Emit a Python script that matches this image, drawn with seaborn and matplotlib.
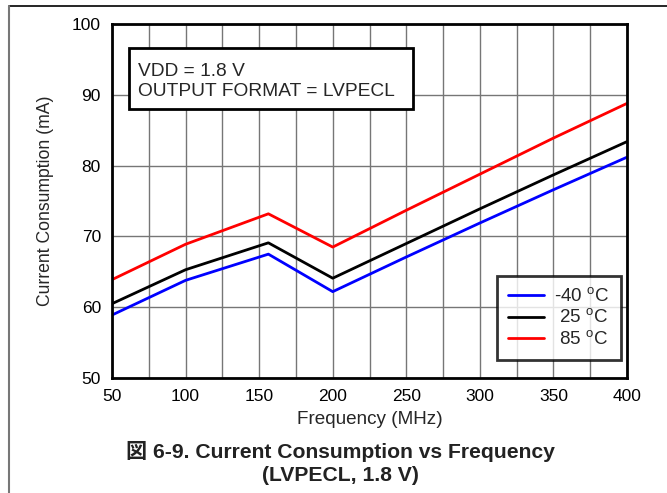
import numpy as np
import pandas as pd
import matplotlib
matplotlib.use("Agg")
import matplotlib.pyplot as plt
from matplotlib.lines import Line2D
from matplotlib.patches import Rectangle
import seaborn as sns

# Data
freq = [50, 100, 156.25, 200, 250, 300, 350, 400]
temps = ["-40 $^{\\mathregular{o}}$C", " 25 $^{\\mathregular{o}}$C", " 85 $^{\\mathregular{o}}$C"]
current_m40 = [58.9, 63.8, 67.5, 62.2, 67.1, 71.9, 76.6, 81.2]
current_25 = [60.5, 65.3, 69.1, 64.1, 69.0, 73.9, 78.7, 83.4]
current_85 = [63.9, 68.9, 73.2, 68.5, 73.7, 78.8, 83.9, 88.8]
colors = ["#0000ff", "#000000", "#ff0000"]

df = pd.DataFrame({
    "Frequency": freq * 3,
    "Current": current_m40 + current_25 + current_85,
    "Temp": [temps[0]] * 8 + [temps[1]] * 8 + [temps[2]] * 8,
})

sns.set_style("white")
plt.rcParams["font.family"] = ["Liberation Sans", "Noto Sans CJK JP", "DejaVu Sans"]
plt.rcParams["mathtext.fontset"] = "custom"
plt.rcParams["mathtext.rm"] = "Liberation Sans"

fig = plt.figure(figsize=(6.67, 4.93), dpi=100)
ax = fig.add_axes([0.168, 0.2333, 0.772, 0.7177])

sns.lineplot(data=df, x="Frequency", y="Current", hue="Temp", palette=colors,
             linewidth=2, ax=ax, legend=True)

ax.set_xlim(50, 400)
ax.set_ylim(50, 100)
ax.set_xticks(np.arange(50, 401, 50))
ax.set_xticks(np.arange(50, 401, 25), minor=True)
ax.set_yticks(np.arange(50, 101, 10))
ax.grid(True, which="both", color="#767676", linewidth=1.0)
ax.tick_params(which="both", length=0, labelsize=12.5, colors="black", pad=8)
for s in ax.spines.values():
    s.set_linewidth(2.0)
    s.set_color("black")

ax.set_xlabel("Frequency (MHz)", fontsize=13.6, labelpad=5)
ax.set_ylabel("Current Consumption (mA)", fontsize=12.7, labelpad=13)

leg = ax.legend(loc="lower right", fontsize=13.5, frameon=True, fancybox=False,
                handlelength=1.9, borderpad=0.6, labelspacing=0.15,
                bbox_to_anchor=(0.988, 0.051), borderaxespad=0, handletextpad=0.55)
leg.get_frame().set_edgecolor("black")
leg.get_frame().set_linewidth(2.0)
for line in leg.get_lines():
    line.set_linewidth(2)

# annotation box with the test conditions
ax.add_patch(Rectangle((0.033, 0.760), 0.551, 0.172, transform=ax.transAxes,
                       facecolor="white", edgecolor="black", linewidth=2.0, zorder=5))
ax.text(0.0505, 0.853, "VDD = 1.8 V", transform=ax.transAxes, fontsize=13.8,
        va="baseline", ha="left", zorder=6)
ax.text(0.0505, 0.797, "OUTPUT FORMAT = LVPECL", transform=ax.transAxes, fontsize=13.8,
        va="baseline", ha="left", zorder=6)

fig.text(0.511, 0.061, "図 6-9. Current Consumption vs Frequency\n(LVPECL, 1.8 V)",
         ha="center", va="center", fontsize=15.2, fontweight="bold", linespacing=1.25,
         color="#222222")

fig.add_artist(Line2D([0.0135, 1.0], [0.988, 0.988], transform=fig.transFigure,
                      color="black", linewidth=1.2))
fig.add_artist(Line2D([0.0132, 0.0132], [0.0, 0.988], transform=fig.transFigure,
                      color="#777777", linewidth=1.5))

fig.savefig("out.png", dpi=100)
